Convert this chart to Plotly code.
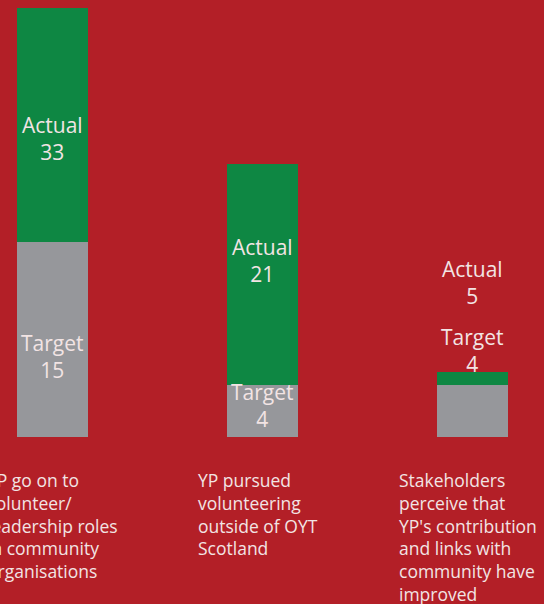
import plotly.graph_objects as go

categories = [
    "YP go on to<br>volunteer/<br>leadership roles<br>in community<br>organisations",
    "YP pursued<br>volunteering<br>outside of OYT<br>Scotland",
    "Stakeholders<br>perceive that<br>YP's contribution<br>and links with<br>community have<br>improved",
]
target = [15, 4, 4]
actual = [33, 21, 5]
extra = [a - t for a, t in zip(actual, target)]

BG = "#B31F27"
GREEN = "#0E8743"
GREY = "#96979B"
TXT = "#F2E4E4"
FONT = "Open Sans"

W, H = 544, 604
px_per_unit = 13.0
base_px = 437
x_idx = list(range(len(categories)))

fig = go.Figure()
fig.add_trace(go.Bar(x=x_idx, y=target, marker=dict(color=GREY, line=dict(width=0)),
                     width=0.338, hoverinfo="skip", name="Target"))
fig.add_trace(go.Bar(x=x_idx, y=extra, marker=dict(color=GREEN, line=dict(width=0)),
                     width=0.338, hoverinfo="skip", name="Actual"))

ann = []
green_shift = [-13, 14]
grey_shift = [-17, 6]
for i in range(2):
    ann.append(dict(x=i, y=target[i] + extra[i] / 2, xref="x", yref="y",
                    text=f"Actual<br>{actual[i]}", showarrow=False, yshift=green_shift[i],
                    font=dict(family=FONT, size=21, color=TXT), align="center"))
    ann.append(dict(x=i, y=target[i] / 2, xref="x", yref="y",
                    text=f"Target<br>{target[i]}", showarrow=False, yshift=grey_shift[i],
                    font=dict(family=FONT, size=21, color=TXT), align="center"))
ann.append(dict(x=2, y=actual[2], xref="x", yref="y", text=f"Target<br>{target[2]}",
                showarrow=False, yanchor="middle", yshift=22,
                font=dict(family=FONT, size=21, color=TXT), align="center"))
ann.append(dict(x=2, y=actual[2], xref="x", yref="y", text=f"Actual<br>{actual[2]}",
                showarrow=False, yanchor="middle", yshift=90,
                font=dict(family=FONT, size=21, color=TXT), align="center"))

label_left_px = [-15, 196, 397]
for i, c in enumerate(categories):
    ann.append(dict(x=label_left_px[i] / W, y=1 - 466 / H, xref="paper", yref="paper",
                    xanchor="left", yanchor="top", text=c, showarrow=False, align="left",
                    font=dict(family=FONT, size=17.5, color=TXT)))

x0 = -52.5 / 210.0
x1 = x0 + W / 210.0
y1 = base_px / px_per_unit
y0 = -(H - base_px) / px_per_unit

fig.update_layout(
    width=W, height=H, barmode="stack", showlegend=False,
    paper_bgcolor=BG, plot_bgcolor=BG,
    margin=dict(l=0, r=0, t=0, b=0),
    xaxis=dict(range=[x0, x1], visible=False, fixedrange=True),
    yaxis=dict(range=[y0, y1], visible=False, fixedrange=True),
    annotations=ann,
)
fig.write_html("out.html", config={"displayModeBar": False},
               post_script="document.body.style.margin='0';document.body.style.overflow='hidden';")
